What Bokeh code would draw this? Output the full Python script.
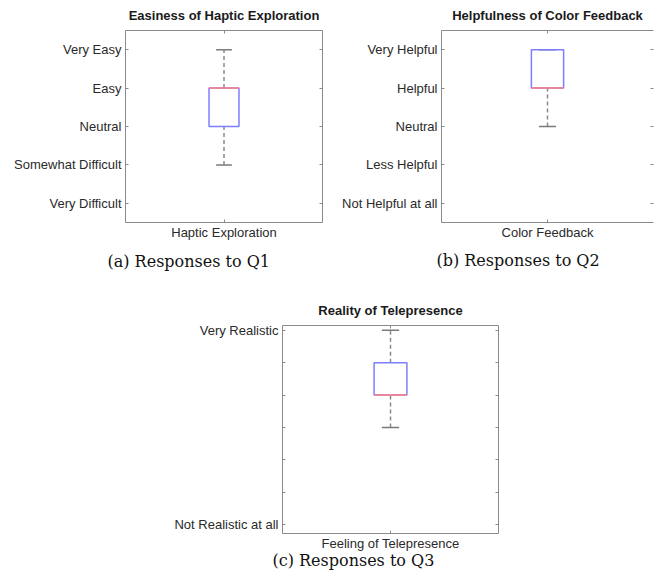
from bokeh.plotting import figure
from bokeh.models import Range1d, LinearAxis, FixedTicker, Title, Spacer
from bokeh.layouts import row, column
from bokeh.embed import file_html
from bokeh.resources import INLINE

# ---------------- data ----------------
positions = [1]

q1_ticks = [1, 2, 3, 4, 5]
q1_labels = ["Very Difficult", "Somewhat Difficult", "Neutral", "Easy", "Very Easy"]
q1_stats = [2, 3, 4, 4, 5]          # lower whisker, Q1, median, Q3, upper whisker

q2_ticks = [1, 2, 3, 4, 5]
q2_labels = ["Not Helpful at all", "Less Helpful", "Neutral", "Helpful", "Very Helpful"]
q2_stats = [3, 4, 4, 5, 5]

q3_ticks = [1, 2, 3, 4, 5, 6, 7]
q3_labels = ["Not Realistic at all", "", "", "", "", "", "Very Realistic"]
q3_stats = [4, 5, 5, 6, 7]

GRAY = "#8a8a8a"
LABEL = "#2a2a2a"
BLUE = "#7d7dff"
RED = "#ff7f7f"


def panel(ticks, labels, stats, title, xlabel, caption, yr, width, height,
          bl, br, bt, bb, cap_off, cap_standoff, right_line=True):
    p = figure(width=width, height=height, output_backend="svg",
               toolbar_location=None, x_range=Range1d(0.5, 1.5),
               y_range=Range1d(*yr), x_axis_type=None, y_axis_type=None,
               min_border_left=bl, min_border_right=br,
               min_border_top=bt, min_border_bottom=bb)
    p.outline_line_color = None
    p.xgrid.visible = False
    p.ygrid.visible = False
    p.background_fill_color = "white"

    p.title.text = title
    p.title.align = "center"
    p.title.vertical_align = "top"
    p.title.text_font = "Liberation Sans"
    p.title.text_font_size = "13px"
    p.title.text_font_style = "bold"
    p.title.text_line_height = 1.0
    p.title.text_color = "#1a1a1a"
    p.title.standoff = 12

    def mk_axis(tk, overrides, show_labels, line=True, standoff=4):
        ax = LinearAxis(ticker=FixedTicker(ticks=tk),
                        major_label_overrides=overrides,
                        major_tick_in=3, major_tick_out=0,
                        minor_tick_line_color=None,
                        major_tick_line_color=GRAY,
                        axis_line_color=GRAY if line else None,
                        major_label_text_font="Liberation Sans",
                        major_label_text_font_size="13px" if show_labels else "0px",
                        major_label_text_color=LABEL,
                        major_label_standoff=standoff if show_labels else 0)
        return ax

    yover = {t: l for t, l in zip(ticks, labels)}
    xover = {positions[0]: xlabel}
    p.add_layout(mk_axis(ticks, yover, True), "left")
    p.add_layout(mk_axis(positions, xover, True, standoff=2), "below")
    p.add_layout(mk_axis(positions, {positions[0]: ""}, False), "above")
    p.add_layout(mk_axis(ticks, {t: "" for t in ticks}, False, right_line), "right")

    lo, qa, med, qb, hi = stats
    bw = 0.076
    cw = 0.04
    x = positions[0]
    # whiskers
    p.segment(x0=[x, x], y0=[lo, qb], x1=[x, x], y1=[qa, hi],
              line_color=GRAY, line_width=1.5, line_dash="4 3")
    # caps
    p.segment(x0=[x - cw, x - cw], y0=[lo, hi], x1=[x + cw, x + cw], y1=[lo, hi],
              line_color="#7a7a7a", line_width=1.5)
    # box
    p.quad(left=[x - bw], right=[x + bw], bottom=[qa], top=[qb],
           fill_color=None, line_color=BLUE, line_width=1.5)
    # median
    p.segment(x0=[x - bw], y0=[med], x1=[x + bw], y1=[med],
              line_color=RED, line_width=1.5)

    cap = Title(text=caption, align="left", offset=cap_off,
                text_font="DejaVu Serif", text_font_size="16px",
                text_font_style="normal", text_color="#111111",
                standoff=cap_standoff)
    p.add_layout(cap, "below")
    return p


pA = panel(q1_ticks, q1_labels, q1_stats, "Easiness of Haptic Exploration",
           "Haptic Exploration", "(a) Responses to Q1", (0.5, 5.5),
           322, 282, 117, 8, 28, 60, -18, 14)
pB = panel(q2_ticks, q2_labels, q2_stats, "Helpfulness of Color Feedback",
           "Color Feedback", "(b) Responses to Q2", (0.5, 5.5),
           324, 282, 111, 1, 30, 57, -5, 12, right_line=False)
pC = panel(q3_ticks, q3_labels, q3_stats, "Reality of Telepresence",
           "Feeling of Telepresence", "(c) Responses to Q3", (0.72, 7.15),
           360, 296, 122, 22, 43, 45, -10, -10)

layout = column(row(Spacer(width=8, height=10), pA, pB),
                row(Spacer(width=160, height=10), pC))

open("out.html", "w").write(file_html(layout, INLINE))
